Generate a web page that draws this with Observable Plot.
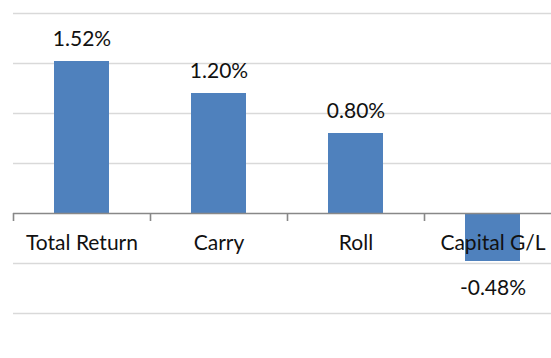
<!DOCTYPE html>
<html>
<head>
<meta charset="utf-8">
<script src="https://cdn.jsdelivr.net/npm/d3@7"></script>
<script src="https://cdn.jsdelivr.net/npm/@observablehq/plot@0.6"></script>
<style>
  html, body { margin: 0; padding: 0; background: #fff; }
  #chart svg { display: block; }
</style>
</head>
<body>
<div id="chart"></div>
<script>
// Return decomposition, in percent
const categories = ["Total Return", "Carry", "Roll", "Capital G/L"];
const values = [1.52, 1.20, 0.80, -0.48];
const labels = ["1.52%", "1.20%", "0.80%", "-0.48%"];
const gridTicks = [-1, -0.5, 0.5, 1, 1.5, 2];

const data = categories.map((c, i) => ({category: c, value: values[i], label: labels[i]}));

const W = 551, H = 358;
const xRange = [13, 561];               // the last category cell runs past the right edge
const step = (xRange[1] - xRange[0]) / categories.length;
const font = "Lato, 'Open Sans', sans-serif";
const textSize = 21;

const chart = Plot.plot({
  width: W,
  height: H,
  marginTop: 13,
  marginBottom: 45,
  marginLeft: 13,
  marginRight: 0,
  style: {fontFamily: font, background: "#fff"},
  x: {domain: categories, range: xRange, paddingInner: 0.6, paddingOuter: 0.3, axis: null},
  y: {domain: [-1, 2], axis: null},
  marks: [
    Plot.ruleY(gridTicks, {stroke: "#d9d9d9", strokeWidth: 1.6}),
    Plot.barY(data, {x: "category", y: "value", fill: "#4f81bd"}),
    Plot.ruleY([0], {stroke: "#888", strokeWidth: 1.6}),
    // category boundary ticks hanging below the zero line
    Plot.ruleX(categories, {x: d => d, y1: 0, y2: -0.08, dx: -step / 2, stroke: "#888", strokeWidth: 1.6}),
    // category names just under the zero line
    Plot.text(categories, {x: d => d, y: 0, dy: 30, text: d => d, fontSize: textSize, fill: "#111"}),
    // value labels above positive bars
    Plot.text(data.filter(d => d.value >= 0), {
      x: "category", y: "value", text: "label", dy: -22, fontSize: textSize, fill: "#111"
    }),
    // and below negative ones
    Plot.text(data.filter(d => d.value < 0), {
      x: "category", y: "value", text: "label", dy: 27, fontSize: textSize, fill: "#111"
    })
  ]
});

document.getElementById("chart").append(chart);
</script>
</body>
</html>
